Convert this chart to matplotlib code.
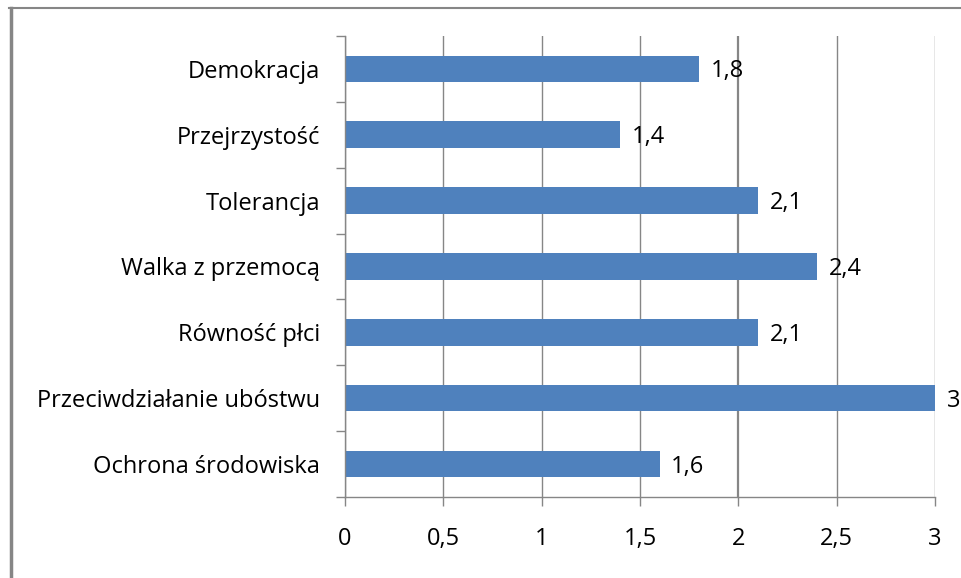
import matplotlib
matplotlib.use("Agg")
import matplotlib.pyplot as plt
from matplotlib.lines import Line2D

categories = ["Ochrona środowiska", "Przeciwdziałanie ubóstwu", "Równość płci",
              "Walka z przemocą", "Tolerancja", "Przejrzystość", "Demokracja"]
values = [1.6, 3, 2.1, 2.4, 2.1, 1.4, 1.8]
xticks = [0, 0.5, 1, 1.5, 2, 2.5, 3]

plt.rcParams['font.family'] = ['Open Sans', 'DejaVu Sans']
fs = 17

fig = plt.figure(figsize=(9.61, 5.78), dpi=100)
ax = fig.add_axes([0.359, 0.140, 0.614, 0.798])

grey = '#868686'
pos = list(range(len(categories)))
ax.barh(pos, values, height=0.40, color='#4F81BD', zorder=3)

for y, v in zip(pos, values):
    ax.text(v + 0.058, y - 0.04, ('%g' % v).replace('.', ','), va='center', ha='left',
            fontsize=fs, color='black')

ax.set_xlim(0, 3)
ax.set_ylim(-0.5, len(categories) - 0.5)
ax.set_xticks(xticks)
ax.set_xticklabels([('%g' % t).replace('.', ',') for t in xticks], fontsize=fs)
ax.set_yticks(pos)
ax.set_yticklabels(categories, fontsize=fs)
ax.set_yticks([p - 0.5 for p in pos] + [len(categories) - 0.5], minor=True)

ax.tick_params(axis='y', which='major', length=0, pad=18)
ax.tick_params(axis='y', which='minor', length=6.5, color=grey, width=1)
ax.tick_params(axis='x', length=6.5, color=grey, width=1, pad=15)

ax.grid(axis='x', color=grey, linewidth=1, zorder=0)
# the line at 2 is drawn heavier in the original
ax.get_xgridlines()[4].set_linewidth(1.6)
for s in ['top', 'right']:
    ax.spines[s].set_visible(False)
for s in ['left', 'bottom']:
    ax.spines[s].set_color(grey)
    ax.spines[s].set_linewidth(1)
    ax.spines[s].set_zorder(4)

# frame of the chart area
fig.add_artist(Line2D([0.009, 1.0], [0.986, 0.986], color=grey, linewidth=1.5,
                      transform=fig.transFigure))
fig.add_artist(Line2D([0.011, 0.011], [0.0, 0.986], color=grey, linewidth=2.5,
                      transform=fig.transFigure))

fig.savefig("out.png", dpi=100)
